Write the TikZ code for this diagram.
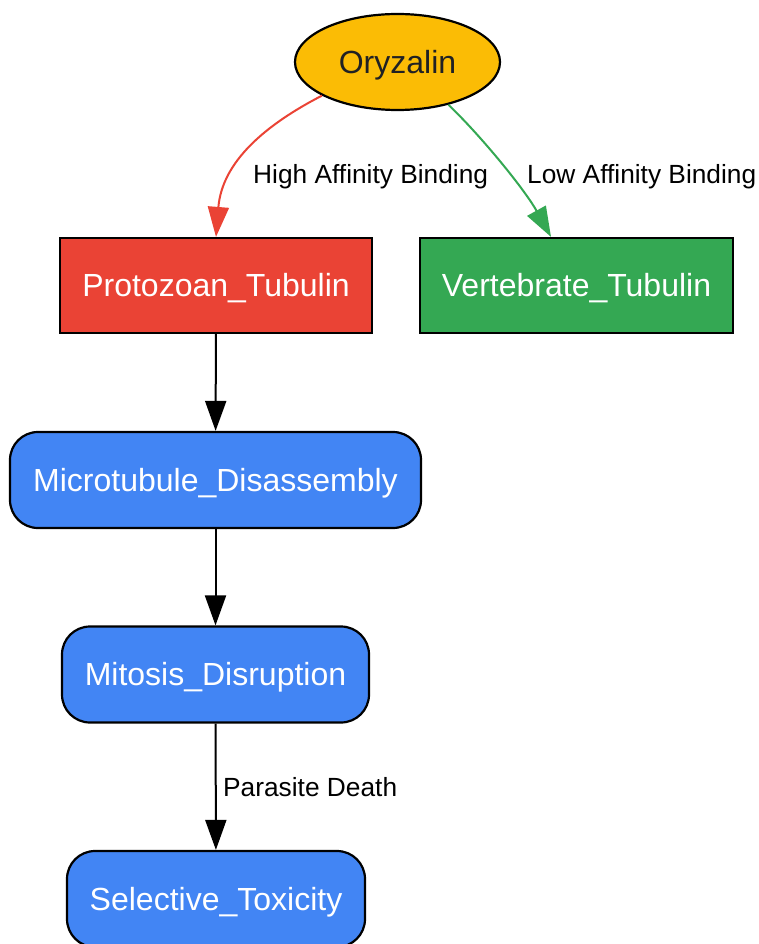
\documentclass[tikz,border=0pt]{standalone}
\usepackage{fontspec}
\setmainfont{Liberation Sans}
\usetikzlibrary{arrows.meta,shapes.geometric}
\definecolor{gyellow}{HTML}{FBBC05}
\definecolor{gred}{HTML}{EA4335}
\definecolor{ggreen}{HTML}{34A853}
\definecolor{gblue}{HTML}{4285F4}
\definecolor{gdark}{HTML}{202124}
\tikzset{
  nodefont/.style={font=\fontsize{32}{36}\selectfont, text height=22.9pt, text depth=0pt, inner sep=0pt},
  base/.style={nodefont, draw=black, line width=2.2pt, text=white},
  ell/.style={base, ellipse, fill=gyellow, text=gdark, minimum width=205pt, minimum height=96pt},
  sqbox/.style={base, rectangle, minimum height=95pt},
  rbox/.style={base, rectangle, rounded corners=28pt, fill=gblue, minimum height=96pt},
  lbl/.style={font=\fontsize{26.3}{30}\selectfont, text=black, inner sep=0pt, anchor=base west},
  conn/.style={line width=2pt, -{Triangle[length=30pt,width=21pt]}},
}
\begin{document}
\begin{tikzpicture}[x=1pt,y=-1pt]
\useasboundingbox (0,0) rectangle (758,944);
\clip (0,0) rectangle (758,944);
\node[ell] (ory) at (397.5,62) {Oryzalin};
\node[sqbox, fill=gred, minimum width=312pt] (prot) at (216,285.5) {Protozoan\_Tubulin};
\node[sqbox, fill=ggreen, minimum width=313pt] (vert) at (576.5,285.5) {Vertebrate\_Tubulin};
\node[rbox, minimum width=411pt] (micro) at (215.5,480) {Microtubule\_Disassembly};
\node[rbox, minimum width=307pt] (mito) at (215.5,674.5) {Mitosis\_Disruption};
\node[rbox, minimum width=298pt] (sel) at (216,899) {Selective\_Toxicity};

\draw[conn, color=gred] (ory.204) .. controls (265,125) and (222,162) .. (prot.north);
\draw[conn, color=ggreen] (ory.320) .. controls (482,137) and (525,190) .. ([xshift=-25.5pt]vert.north);
\draw[conn] (prot) -- (micro);
\draw[conn] (micro) -- (mito);
\draw[conn] (mito) -- (sel);

\node[lbl] (l1) at (253,183.5) {High Affinity Binding};
\node[lbl] (l2) at (527,183.5) {Low Affinity Binding};
\node[lbl] (l3) at (223,796) {Parasite Death};
\end{tikzpicture}
\end{document}
